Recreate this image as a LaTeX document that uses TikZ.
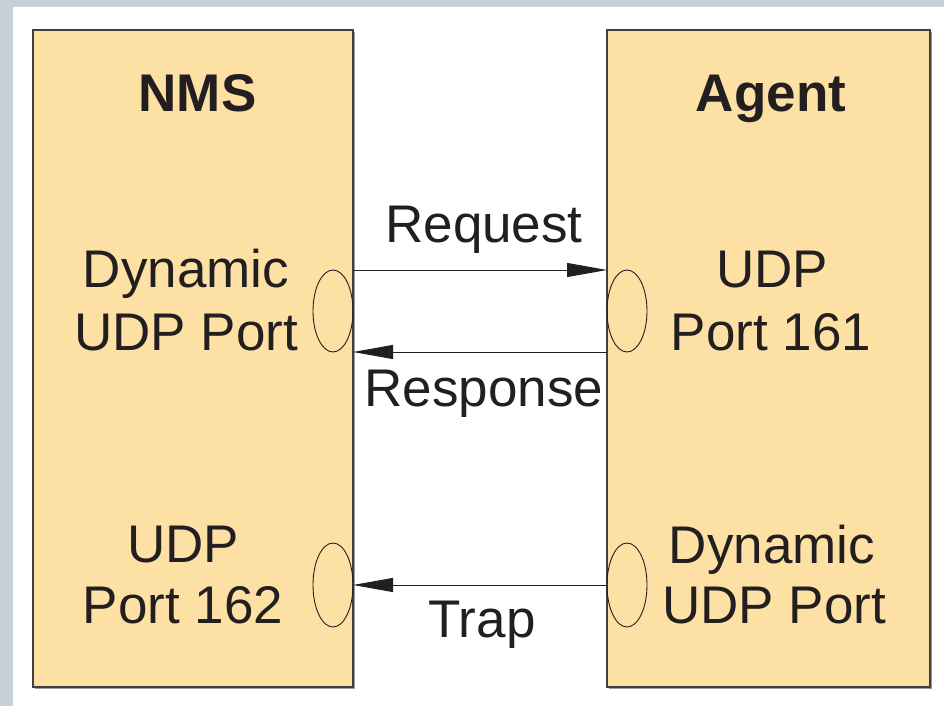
\documentclass[tikz,border=0pt]{standalone}
\usepackage{fontspec}
\setmainfont{Liberation Sans}
\usetikzlibrary{arrows.meta,shadows,shapes.geometric}
\definecolor{boxfill}{RGB}{253,224,164}
\definecolor{framegray}{RGB}{198,208,215}
\definecolor{inkc}{RGB}{35,31,32}
\tikzset{
  x=1pt,y=-1pt,
  hostbox/.style={rectangle,draw=black!75,line width=1.6pt,fill=boxfill,inner sep=0pt,outer sep=0pt,
    drop shadow={shadow xshift=1.6pt,shadow yshift=-1.6pt,opacity=0.55,fill=black!70}},
  port/.style={ellipse,draw=inkc,line width=0.9pt,minimum width=40pt,minimum height=82pt,inner sep=0pt,outer sep=0pt},
  lbl/.style={anchor=base,inner sep=0pt,text=inkc,font=\fontsize{53}{62}\selectfont},
  title/.style={lbl,font=\fontsize{53}{62}\selectfont\bfseries},
  msg/.style={draw=inkc,line width=1pt,-{Triangle[length=40pt,width=14pt]}}
}
\begin{document}
\begin{tikzpicture}
\useasboundingbox (0,0) rectangle (944,706);
\fill[white] (0,0) rectangle (944,706);
\fill[framegray] (0,0) rectangle (944,7);
\fill[framegray] (0,0) rectangle (13,706);
% boxes
\node[hostbox,minimum width=320pt,minimum height=657pt] (nms) at (193,358.5) {};
\node[hostbox,minimum width=323pt,minimum height=657pt] (agent) at (768.5,358.5) {};
% ports
\node[port] (pl1) at (333,311) {};
\node[port] (pr1) at (627,311) {};
\node[port,minimum height=84pt] (pl2) at (333,585) {};
\node[port,minimum height=84pt] (pr2) at (627,585) {};
% titles
\node[title] (tn) at (197.5,112) {NMS};
\node[title] (ta) at (771,112) {Agent};
% labels
\node[lbl] (l1a) at (186,287) {Dynamic};
\node[lbl] (l1b) at (186,350) {UDP Port};
\node[lbl] (r1a) at (772,287) {UDP};
\node[lbl] (r1b) at (771,350) {Port 161};
\node[lbl] (l2a) at (183,562) {UDP};
\node[lbl] (l2b) at (183,623) {Port 162};
\node[lbl] (r2a) at (772,563) {Dynamic};
\node[lbl] (r2b) at (774,623) {UDP Port};
% messages
\draw[msg] (nms.east |- pl1.north) -- (agent.west |- pr1.north);
\draw[msg] (agent.west |- pr1.south) -- (nms.east |- pl1.south);
\draw[msg] (agent.west |- pr2.center) -- (nms.east |- pl2.center);
\node[lbl] (req) at (484,242) {Request};
\node[lbl] (resp) at (484,406) {Response};
\node[lbl] (trap) at (482,637) {Trap};
\end{tikzpicture}
\end{document}
